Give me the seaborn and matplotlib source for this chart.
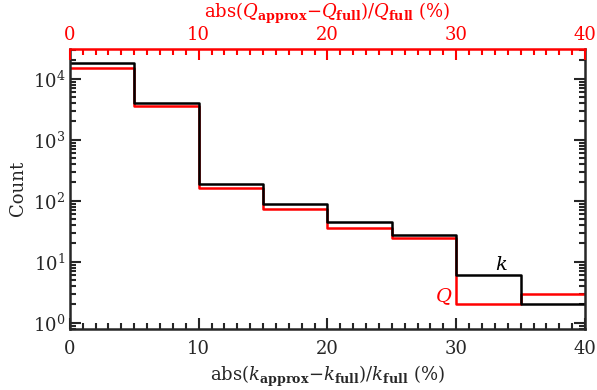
import matplotlib
matplotlib.use("Agg")
import matplotlib.pyplot as plt
import numpy as np
import seaborn as sns
from matplotlib.ticker import MultipleLocator, LogLocator, NullFormatter

# bins de 5% e contagens
bordas = [0, 5, 10, 15, 20, 25, 30, 35, 40]
centros = [2.5, 7.5, 12.5, 17.5, 22.5, 27.5, 32.5, 37.5]
contagem_k = [18000, 4000, 190, 90, 45, 28, 6, 2]
contagem_q = [15000, 3600, 165, 74, 36, 25, 2, 3]

sns.set_style("ticks")
plt.rcParams["font.family"] = ["DejaVu Serif"]
plt.rcParams["mathtext.fontset"] = "dejavuserif"

fig, ax = plt.subplots(figsize=(5.97, 3.90), dpi=100)
fig.subplots_adjust(left=0.117, right=0.98, bottom=0.157, top=0.875)

sns.histplot(x=centros, weights=contagem_q, bins=bordas, element="step",
             fill=False, color="red", linewidth=1.8, ax=ax)
sns.histplot(x=centros, weights=contagem_k, bins=bordas, element="step",
             fill=False, color="black", linewidth=1.8, ax=ax)

ax.set_yscale("log")
ax.set_xlim(0, 40)
ax.set_ylim(0.8, 31000)

ax.xaxis.set_major_locator(MultipleLocator(10))
ax.xaxis.set_minor_locator(MultipleLocator(1))
ax.yaxis.set_major_locator(LogLocator(base=10))
ax.yaxis.set_minor_locator(LogLocator(base=10, subs=np.arange(2, 10)))
ax.yaxis.set_minor_formatter(NullFormatter())
ax.tick_params(which="both", direction="in", right=True, top=False,
               labelsize=13, width=1.5)
ax.tick_params(which="major", length=8)
ax.tick_params(which="minor", length=4)
ax.tick_params(axis="x", which="major", pad=8)

for lado in ["left", "right", "bottom"]:
    ax.spines[lado].set_linewidth(1.8)
ax.spines["top"].set_visible(False)

ax.set_xlabel(r"abs($k_{\mathbf{approx}}$$-$$k_{\mathbf{full}}$)/$k_{\mathbf{full}}$ (%)",
              fontsize=13)
ax.set_ylabel("Count", fontsize=13)

# eixo superior em vermelho para Q
topo = ax.twiny()
topo.set_xlim(0, 40)
topo.xaxis.set_major_locator(MultipleLocator(10))
topo.xaxis.set_minor_locator(MultipleLocator(1))
topo.tick_params(which="both", direction="in", colors="red", labelsize=13, width=1.5)
topo.tick_params(which="major", length=8)
topo.tick_params(which="minor", length=4)
for lado in ["left", "right", "bottom"]:
    topo.spines[lado].set_visible(False)
topo.spines["top"].set_color("red")
topo.spines["top"].set_linewidth(1.8)
topo.set_xlabel(r"abs($Q_{\mathbf{approx}}$$-$$Q_{\mathbf{full}}$)/$Q_{\mathbf{full}}$ (%)",
                fontsize=13, color="red", labelpad=6)

ax.text(33.5, 9, r"$k$", fontsize=14, color="black", ha="center", va="center")
ax.text(29.0, 2.7, r"$Q$", fontsize=14, color="red", ha="center", va="center")

fig.savefig("out.png", dpi=100)
plt.close(fig)
